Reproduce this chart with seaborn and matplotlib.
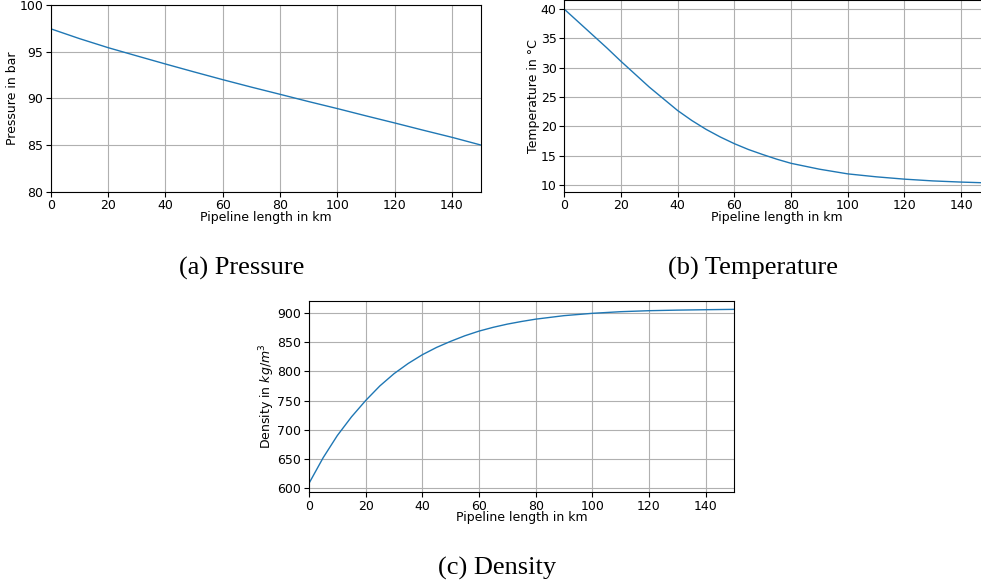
import matplotlib
matplotlib.use("Agg")
import matplotlib.pyplot as plt
import seaborn as sns

# Values
km_p = [0, 10, 20, 30, 40, 50, 60, 70, 80, 90, 100, 110, 120, 130, 140, 150]
pressure = [97.45, 96.4, 95.43, 94.55, 93.68, 92.83, 92.0, 91.2, 90.43, 89.65,
            88.9, 88.12, 87.36, 86.58, 85.82, 85.0]

km_t = [0, 5, 10, 15, 20, 25, 30, 35, 40, 45, 50, 55, 60, 65, 70, 75, 80, 90,
        100, 110, 120, 130, 140, 150]
temperature = [40.0, 37.8, 35.6, 33.4, 31.1, 28.9, 26.7, 24.7, 22.7, 21.0, 19.5,
               18.2, 17.05, 16.05, 15.2, 14.4, 13.7, 12.7, 11.9, 11.4, 11.0, 10.7,
               10.5, 10.35]

km_d = [0, 5, 10, 15, 20, 25, 30, 35, 40, 45, 50, 55, 60, 65, 70, 75, 80, 90,
        100, 110, 120, 130, 140, 150]
density = [608, 652, 690, 722, 750, 775, 796, 813.5, 828.5, 841, 851.5, 861, 869,
           875.5, 881, 885.5, 889.5, 895.5, 899.5, 902.3, 904, 905, 905.7, 906.3]

sns.set_theme(style="ticks", rc={
    "axes.grid": True,
    "grid.color": "#b0b0b0",
    "grid.linewidth": 0.8,
    "axes.edgecolor": "black",
    "axes.linewidth": 0.8,
    "axes.labelcolor": "black",
    "text.color": "black",
    "xtick.color": "black",
    "ytick.color": "black",
    "xtick.labelsize": 9,
    "ytick.labelsize": 9,
    "axes.labelsize": 9,
    "xtick.major.size": 3.5,
    "ytick.major.size": 3.5,
    "xtick.major.width": 0.8,
    "ytick.major.width": 0.8,
})
plt.rcParams['font.family'] = ['DejaVu Sans']

fig = plt.figure(figsize=(9.81, 5.87), dpi=100)
line_color = '#1f77b4'

# (a) Pressure
ax1 = fig.add_axes([0.0517, 0.6735, 0.4383, 0.318])
sns.lineplot(x=km_p, y=pressure, ax=ax1, color=line_color, linewidth=1)
ax1.set_xlim(0, 150)
ax1.set_ylim(80, 100)
ax1.set_yticks([80, 85, 90, 95, 100])
ax1.set_xticks(range(0, 141, 20))
ax1.set_ylabel('Pressure in bar')

# (b) Temperature (runs past the right/top edge, as in the reference)
ax2 = fig.add_axes([0.5752, 0.6735, 0.4335, 0.3257])
sns.lineplot(x=km_t, y=temperature, ax=ax2, color=line_color, linewidth=1)
ax2.set_xlim(0, 150)
ax2.set_yticks([10, 15, 20, 25, 30, 35, 40])
ax2.set_xticks(range(0, 141, 20))
ax2.set_ylabel('Temperature in \u00b0C')

# (c) Density
ax3 = fig.add_axes([0.315, 0.1618, 0.4332, 0.326])
sns.lineplot(x=km_d, y=density, ax=ax3, color=line_color, linewidth=1)
ax3.set_xlim(0, 150)
ax3.set_yticks([600, 650, 700, 750, 800, 850, 900])
ax3.set_xticks(range(0, 141, 20))
ax3.set_ylabel('Density in $kg/m^3$')

for ax in (ax1, ax2, ax3):
    ax.set_xlabel('Pipeline length in km', labelpad=-1)
    ax.yaxis.labelpad = 0.5
    ax.tick_params(axis='both', which='major', pad=2, colors='black')

cap_font = dict(family=['Liberation Serif', 'DejaVu Serif'], fontsize=19,
                ha='center', va='center', color='black')
fig.text(242 / 981, 1 - 268 / 587, '(a) Pressure', **cap_font)
fig.text(753 / 981, 1 - 268 / 587, '(b) Temperature', **cap_font)
fig.text(497 / 981, 1 - 568 / 587, '(c) Density', **cap_font)

fig.savefig('out.png', dpi=100)
plt.close(fig)
